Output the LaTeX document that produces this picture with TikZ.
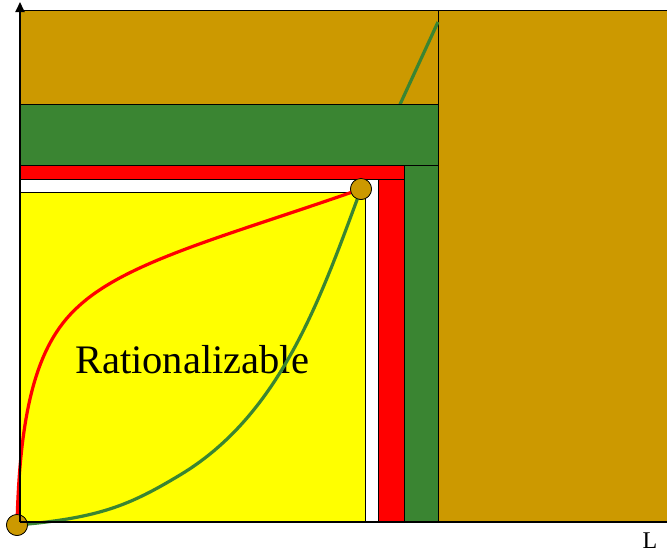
\documentclass[tikz,border=0pt]{standalone}
\usepackage{fontspec}
\setmainfont{Liberation Serif}
\usetikzlibrary{arrows.meta}
\definecolor{gold}{HTML}{CC9900}
\definecolor{dgreen}{HTML}{3A8532}
\definecolor{yel}{HTML}{FFFF00}
\definecolor{rd}{HTML}{FF0000}
\begin{document}
\begin{tikzpicture}[x=1pt,y=-1pt,
  region/.style={draw=black,line width=0.8pt},
  curve/.style={line width=3.2pt},
  dot/.style={circle,draw=black,line width=0.7pt,fill=gold,inner sep=0pt,minimum size=21pt}]
\useasboundingbox (0,0) rectangle (667,554);
% background
\fill[gold] (20,10) rectangle (667,522);
\draw[region] (20,10) -- (667,10);
\draw[region] (438,10) -- (438,522);
% white and yellow
\fill[white] (20,179) rectangle (378,522);
\draw[region,fill=yel] (20,192) rectangle (365,522);
\draw[region] (20,179) rectangle (378,522);
% nodes
\node[dot] (top) at (361,189) {};
\node[dot] (o) at (17,525) {};
\coordinate (end) at (438,22);
% green straight continuation
\draw[curve,dgreen] (top.center) -- (end);
% red bands
\draw[region,fill=rd] (20,165) rectangle (404,179);
\draw[region,fill=rd] (378,179) rectangle (404,522);
% green bands
\draw[region,fill=dgreen] (20,104) rectangle (438,165);
\draw[region,fill=dgreen] (404,165) rectangle (438,522);
% label
\node[font=\fontsize{40.5}{44}\selectfont] (lab) at (192,360) {Rationalizable};
% curves
\draw[curve,rd] (o.center) .. controls (20,400) and (40,340) .. (80,305)
  .. controls (130,260) and (230,235) .. (top.center);
\draw[curve,dgreen] (o.center) .. controls (100,518) and (130,505) .. (180,475)
  .. controls (280,415) and (320,300) .. (top.center);
% redraw dots on top
\node[dot] at (361,189) {};
\node[dot] at (17,525) {};
% axes
\draw[line width=1.8pt,-{Triangle[width=9pt,length=10pt]}] (20,522) -- (20,2);
\draw[line width=1.8pt] (20,522) -- (667,522);
\node[font=\fontsize{24}{26}\selectfont,anchor=base] (L) at (650,548) {L};
\end{tikzpicture}
\end{document}
